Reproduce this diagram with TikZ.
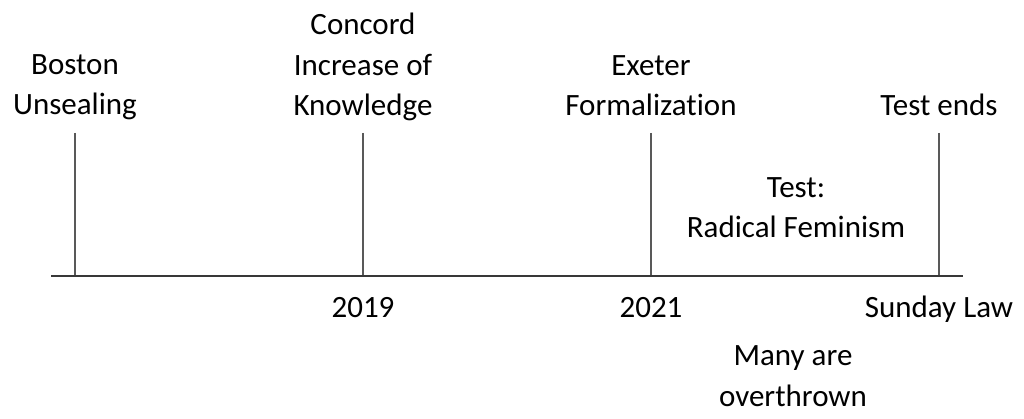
\documentclass[tikz,border=0pt]{standalone}
\usepackage{fontspec}
\setmainfont{Carlito}[Ligatures=NoCommon]
\usetikzlibrary{positioning}
\begin{document}
\begin{tikzpicture}[x=1pt,y=-1pt]
\tikzset{wen/.style={align=center, inner sep=0pt, anchor=base,
  font=\fontsize{31}{40.5}\selectfont}}
\tikzset{shu/.style={draw=black!65, line width=2pt}}
\tikzset{heng/.style={draw=black!78, line width=2pt}}

\useasboundingbox (0,0) rectangle (1024,419);

\coordinate (l0) at (51,276);
\coordinate (r0) at (963,276);
\coordinate (a1) at (75,133);
\coordinate (a0) at (75,276);
\coordinate (b1) at (363,133);
\coordinate (b0) at (363,276);
\coordinate (c1) at (651,133);
\coordinate (c0) at (651,276);
\coordinate (d1) at (939,133);
\coordinate (d0) at (939,276);

% base = baseline of the last line
\node[wen](bos)at(75,115){Boston\\Unsealing};
\node[wen](con)at(363,116){Concord\\Increase of\\Knowledge};
\node[wen](exe)at(651,116){Exeter\\Formalization};
\node[wen](end)at(939,116){Test ends};
\node[wen](tst)at(796,238){Test:\\Radical Feminism};

\node[wen](y19)at(363,317){2019};
\node[wen](y21)at(651,317){2021};
\node[wen](sun)at(939,317){Sunday Law};
\node[wen](man)at(793,406){Many are\\overthrown};

\path[shu] (a1) -- (a0);
\path[shu] (b1) -- (b0);
\path[shu] (c1) -- (c0);
\path[shu] (d1) -- (d0);
\path[heng] (l0) -- (r0);
\end{tikzpicture}
\end{document}
